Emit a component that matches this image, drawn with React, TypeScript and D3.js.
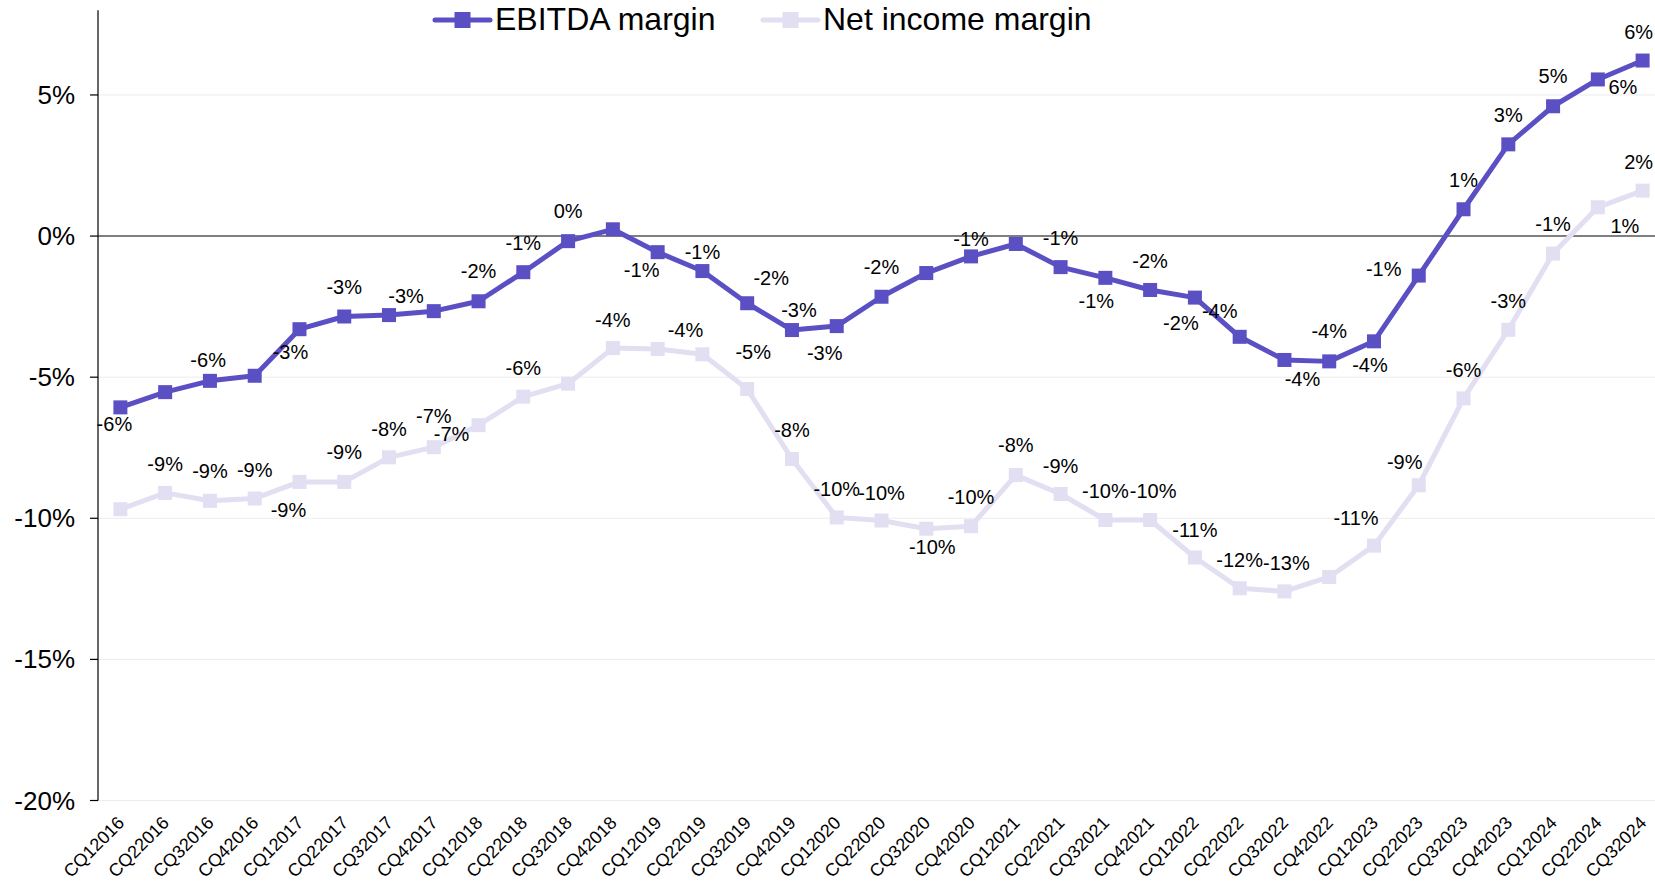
import React from "react";
import * as d3 from "d3";

const quarters = [
  "CQ12016","CQ22016","CQ32016","CQ42016",
  "CQ12017","CQ22017","CQ32017","CQ42017",
  "CQ12018","CQ22018","CQ32018","CQ42018",
  "CQ12019","CQ22019","CQ32019","CQ42019",
  "CQ12020","CQ22020","CQ32020","CQ42020",
  "CQ12021","CQ22021","CQ32021","CQ42021",
  "CQ12022","CQ22022","CQ32022","CQ42022",
  "CQ12023","CQ22023","CQ32023","CQ42023",
  "CQ12024","CQ22024","CQ32024",
];

const ebitdaMargin = [
  -6.07, -5.53, -5.13, -4.95,
  -3.30, -2.85, -2.80, -2.66,
  -2.31, -1.28, -0.18, 0.24,
  -0.57, -1.24, -2.38, -3.33,
  -3.19, -2.15, -1.31, -0.72,
  -0.28, -1.10, -1.48, -1.91,
  -2.18, -3.57, -4.39, -4.44,
  -3.73, -1.40, 0.95, 3.25,
  4.60, 5.55, 6.22,
];

const netIncomeMargin = [
  -9.68, -9.10, -9.38, -9.30,
  -8.71, -8.71, -7.84, -7.48,
  -6.70, -5.69, -5.23, -3.97,
  -4.00, -4.19, -5.42, -7.90,
  -9.97, -10.08, -10.37, -10.28,
  -8.47, -9.14, -10.06, -10.06,
  -11.39, -12.48, -12.59, -12.08,
  -10.97, -8.83, -5.75, -3.32,
  -0.62, 1.02, 1.61,
];

const yTicks = [5, 0, -5, -10, -15, -20];

const seriesNames = ["EBITDA margin", "Net income margin"];
const seriesColors = ["#5b4fc4", "#e1dff1"];

// label placement (relative offsets of text centre from the point), null = hidden
const ebitdaLabelOffsets: ([number, number] | null)[] = [
  [-6, 17], [43, -32], null, null,
  [-9, 23], [0, -30], [17, -19], null,
  [0, -30], [0, -29], [0, -30], null,
  [-16, 18], [0, -19], [24, -25], [7, -20],
  [-12, 27], [0, -30], null, [0, -17],
  null, [0, -29], [-9, 23], [0, -29],
  [-14, 25], [-20, -26], [18, 19], [0, -30],
  [-4, 24], [-35, -7], [0, -29], [0, -29],
  [0, -30], [25, 8], [-4, -29],
];

const netLabelOffsets: ([number, number] | null)[] = [
  null, [0, -29], [0, -30], [0, -29],
  [-11, 28], [0, -30], [0, -28], [0, -31],
  [-27, 9], [0, -29], null, [0, -28],
  null, [-17, -24], [6, -37], [0, -29],
  [0, -28], [0, -28], [6, 18], [0, -29],
  [0, -30], [0, -28], [0, -29], [3, -29],
  [0, -28], [0, -28], [2, -28], null,
  [-18, -28], [-14, -23], [0, -28], [0, -29],
  [0, -30], [27, 19], [-4, -29],
];

const W = 1655;
const H = 883;
const FONT = "'Liberation Sans', Arial, Helvetica, sans-serif";

const fmt = (v: number) => `${Math.round(v)}%`;

export default function App() {
  const x = d3.scalePoint<string>().domain(quarters).range([98, 1665]).padding(0.5);
  const y = d3.scaleLinear().domain([-20, 8]).range([800.5, 10.3]);
  const axisX = 98;

  const line = d3
    .line<number>()
    .x((_, i) => x(quarters[i]) as number)
    .y((d) => y(d));

  const series = [
    { name: seriesNames[1], values: netIncomeMargin, color: seriesColors[1], offsets: netLabelOffsets },
    { name: seriesNames[0], values: ebitdaMargin, color: seriesColors[0], offsets: ebitdaLabelOffsets },
  ];

  const marker = 14;

  const legendItems = [
    { name: seriesNames[0], color: seriesColors[0], x0: 435 },
    { name: seriesNames[1], color: seriesColors[1], x0: 763 },
  ];

  return (
    <svg
      width={W}
      height={H}
      style={{ position: "absolute", left: 0, top: 0, background: "#fff" }}
      fontFamily={FONT}
    >
      <rect x={0} y={0} width={W} height={H} fill="#fff" />
      {/* gridlines */}
      {yTicks.filter((t) => t !== 0).map((t) => (
        <line key={"g" + t} x1={axisX} x2={W} y1={y(t)} y2={y(t)} stroke="#ececec" strokeWidth={1} />
      ))}
      {/* zero line */}
      <line x1={axisX} x2={W} y1={y(0)} y2={y(0)} stroke="#555" strokeWidth={1.6} />
      {/* y axis */}
      <line x1={axisX} x2={axisX} y1={y(8)} y2={y(-20)} stroke="#000" strokeWidth={1.2} />
      {yTicks.map((t) => (
        <g key={"t" + t}>
          <line x1={axisX - 8} x2={axisX} y1={y(t)} y2={y(t)} stroke="#000" strokeWidth={1.2} />
          <text x={75} y={y(t)} dy="0.35em" textAnchor="end" fontSize={26} fill="#000">
            {`${t}%`}
          </text>
        </g>
      ))}
      {/* x labels */}
      {quarters.map((q) => {
        const px = (x(q) as number) + 5;
        const py = 824;
        return (
          <text
            key={q}
            x={px}
            y={py}
            textAnchor="end"
            fontSize={18}
            fill="#000"
            transform={`rotate(-45 ${px} ${py})`}
          >
            {q}
          </text>
        );
      })}
      {/* series */}
      {series.map((s) => (
        <g key={s.name}>
          <path d={line(s.values) as string} fill="none" stroke={s.color} strokeWidth={5} strokeLinejoin="round" strokeLinecap="round" />
          {s.values.map((v, i) => (
            <rect
              key={i}
              x={(x(quarters[i]) as number) - marker / 2}
              y={y(v) - marker / 2}
              width={marker}
              height={marker}
              fill={s.color}
            />
          ))}
        </g>
      ))}
      {/* data labels */}
      {series.map((s) => (
        <g key={"l" + s.name}>
          {s.values.map((v, i) => {
            const off = s.offsets[i];
            if (!off) return null;
            return (
              <text
                key={i}
                x={(x(quarters[i]) as number) + off[0]}
                y={y(v) + off[1]}
                dy="0.35em"
                textAnchor="middle"
                fontSize={20}
                fill="#000"
              >
                {fmt(v)}
              </text>
            );
          })}
        </g>
      ))}
      {/* legend */}
      {legendItems.map((l) => (
        <g key={l.name}>
          <line x1={l.x0} x2={l.x0 + 55} y1={20} y2={20} stroke={l.color} strokeWidth={5} strokeLinecap="round" />
          <rect x={l.x0 + 27.5 - 8} y={20 - 8} width={16} height={16} fill={l.color} />
          <text x={l.x0 + 60} y={29.5} fontSize={32} fill="#000">
            {l.name}
          </text>
        </g>
      ))}
    </svg>
  );
}
